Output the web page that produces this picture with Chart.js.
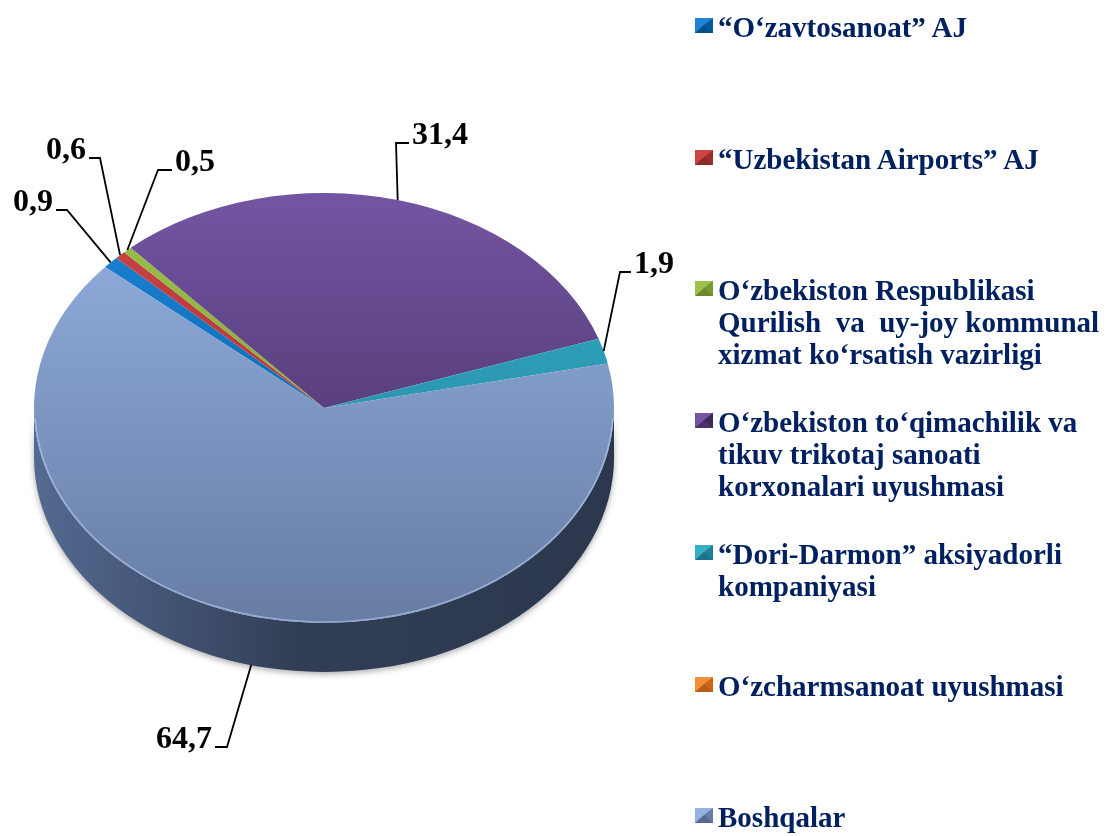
<!DOCTYPE html>
<html>
<head>
<meta charset="utf-8">
<script src="https://cdn.jsdelivr.net/npm/chart.js@4.4.1/dist/chart.umd.min.js"></script>
<style>
  html, body { margin: 0; padding: 0; background: #fff; }
  #wrap { position: relative; width: 1108px; height: 836px; overflow: hidden; }
  #chart { position: absolute; left: 0; top: 0; }
  .mark { position: absolute; width: 0; height: 0; border-style: solid; border-width: 7px 9px 8px 9px; }
  .txt {
    position: absolute; left: 718px; white-space: pre;
    font: bold 29px "Liberation Serif", "Times New Roman", serif;
    line-height: 32px; color: #002060;
  }
</style>
</head>
<body>
<div id="wrap">
  <canvas id="chart" width="1108" height="836"></canvas>
  <div id="legend"></div>
</div>
<script>
// ma'lumotlar
const categories = [
    ['“O‘zavtosanoat” AJ'],
    ['“Uzbekistan Airports” AJ'],
    ['O‘zbekiston Respublikasi', 'Qurilish  va  uy-joy kommunal', 'xizmat ko‘rsatish vazirligi'],
    ['O‘zbekiston to‘qimachilik va', 'tikuv trikotaj sanoati', 'korxonalari uyushmasi'],
    ['“Dori-Darmon” aksiyadorli', 'kompaniyasi'],
    ['O‘zcharmsanoat uyushmasi'],
    ['Boshqalar']
];
const shares = [0.9, 0.6, 0.5, 31.4, 1.9, 0, 64.7];

// ranglar
const topColors = ['#1d84d6', '#cc4446', '#9cc24a', '#7455a3', '#35aec8', '#f0903a', '#95b2e2'];
const bottomColors = ['#005a9e', '#9e2c2e', '#759a30', '#3e2a58', '#207f96', '#c9661a', '#667ca3'];
const sideColors = ['#00508c', '#8a2a2b', '#6a8a2a', '#4a3268', '#1f7388', '#b85d18', '#546a92'];

// ellips (ekranda)
const PIE = { cx: 324, cy: 408, rx: 290, ry: 215, depth: 49 };

// yorliq chiziqlari: tirsak nuqtasi va gorizontal uchi
const labelSpots = [
    { ex: 67, ey: 210, hx: 56 },
    { ex: 100, ey: 158, hx: 89 },
    { ex: 158, ey: 170, hx: 172 },
    { ex: 396, ey: 143, hx: 409 },
    { ex: 620, ey: 272, hx: 631 },
    null,
    { ex: 227, ey: 747, hx: 215 }
];

function fmt(v) {
    return v.toFixed(1).replace('.', ',');
}

const pie3d = {
    id: 'pie3d',
    beforeDatasetsDraw(chart) {
        const ctx = chart.ctx;
        const arcs = chart.getDatasetMeta(0).data;
        const { cx, cy, rx, ry, depth } = PIE;

        // yon devor (old qism)
        arcs.forEach((arc, i) => {
            for (let k = -1; k <= 1; k++) {
                const lo = Math.max(arc.startAngle + 2 * Math.PI * k, 0);
                const hi = Math.min(arc.endAngle + 2 * Math.PI * k, Math.PI);
                if (hi <= lo) continue;
                ctx.save();
                ctx.beginPath();
                ctx.ellipse(cx, cy, rx, ry, 0, lo, hi, false);
                ctx.ellipse(cx, cy + depth, rx, ry, 0, hi, lo, true);
                ctx.closePath();
                ctx.shadowColor = 'rgba(0,0,0,0.35)';
                ctx.shadowBlur = 6;
                ctx.shadowOffsetY = 2;
                ctx.fillStyle = sideColors[i];
                ctx.fill();
                ctx.shadowColor = 'transparent';
                const g = ctx.createLinearGradient(cx - rx, 0, cx + rx, 0);
                g.addColorStop(0, 'rgba(0,0,0,0)');
                g.addColorStop(0.45, 'rgba(0,0,0,0.42)');
                g.addColorStop(1, 'rgba(0,0,0,0.48)');
                ctx.fillStyle = g;
                ctx.fill();
                ctx.restore();
            }
        });

        // yuqori yuzani ellipsga siqish
        const a = arcs[0];
        ctx.save();
        ctx.translate(cx, cy);
        ctx.scale(rx / a.outerRadius, ry / a.outerRadius);
        ctx.translate(-a.x, -a.y);
    },
    afterDatasetsDraw(chart) {
        const ctx = chart.ctx;
        ctx.restore();
        const arcs = chart.getDatasetMeta(0).data;
        const { cx, cy, rx, ry, depth } = PIE;

        // old qirradagi yorug' chiziq
        ctx.save();
        ctx.beginPath();
        ctx.ellipse(cx, cy, rx - 1, ry - 1, 0, 0.05, Math.PI - 0.05, false);
        ctx.strokeStyle = 'rgba(190,210,245,0.55)';
        ctx.lineWidth = 1.5;
        ctx.stroke();
        ctx.restore();

        // qiymat yorliqlari
        ctx.save();
        ctx.font = 'bold 32px "Liberation Serif", "Times New Roman", serif';
        ctx.fillStyle = '#000';
        ctx.strokeStyle = '#000';
        ctx.lineWidth = 1.8;
        ctx.textBaseline = 'alphabetic';
        arcs.forEach((arc, i) => {
            const spot = labelSpots[i];
            if (!spot || !shares[i]) return;
            const mid = (arc.startAngle + arc.endAngle) / 2;
            const s = Math.sin(mid);
            const px = cx + rx * Math.cos(mid);
            const py = cy + ry * s + (s > 0 ? depth : 0);
            ctx.beginPath();
            ctx.moveTo(px, py);
            ctx.lineTo(spot.ex, spot.ey);
            ctx.lineTo(spot.hx, spot.ey);
            ctx.stroke();
            if (spot.hx > spot.ex) {
                ctx.textAlign = 'left';
                ctx.fillText(fmt(shares[i]), spot.hx + 3, spot.ey + 1);
            } else {
                ctx.textAlign = 'right';
                ctx.fillText(fmt(shares[i]), spot.hx - 3, spot.ey + 1);
            }
        });
        ctx.restore();
    }
};

new Chart(document.getElementById('chart'), {
    type: 'pie',
    data: {
        labels: categories,
        datasets: [{
            data: shares,
            backgroundColor: (c) => {
                const area = c.chart.chartArea;
                const i = c.dataIndex;
                if (!area) return topColors[i];
                const g = c.chart.ctx.createLinearGradient(0, area.top + 20, 0, area.bottom - 20);
                g.addColorStop(0, topColors[i]);
                g.addColorStop(1, bottomColors[i]);
                return g;
            },
            borderWidth: 0,
            hoverOffset: 0
        }]
    },
    options: {
        responsive: false,
        devicePixelRatio: 1,
        animation: false,
        rotation: -49,
        layout: { padding: { left: 30, right: 488, top: 100, bottom: 100 } },
        plugins: {
            legend: { display: false },
            tooltip: { enabled: false }
        }
    },
    plugins: [pie3d]
});

// afsona (legend)
const legend = document.getElementById('legend');
categories.forEach((lines, i) => {
    const base = 37 + i * 131.7;
    const mark = document.createElement('div');
    mark.className = 'mark';
    mark.style.left = '695px';
    mark.style.top = (base - 19) + 'px';
    mark.style.borderColor = topColors[i] + ' ' + bottomColors[i] + ' ' + sideColors[i] + ' ' + topColors[i];
    legend.appendChild(mark);
    const txt = document.createElement('div');
    txt.className = 'txt';
    txt.style.top = (base - 26) + 'px';
    txt.textContent = lines.join('\n');
    legend.appendChild(txt);
});
</script>
</body>
</html>
